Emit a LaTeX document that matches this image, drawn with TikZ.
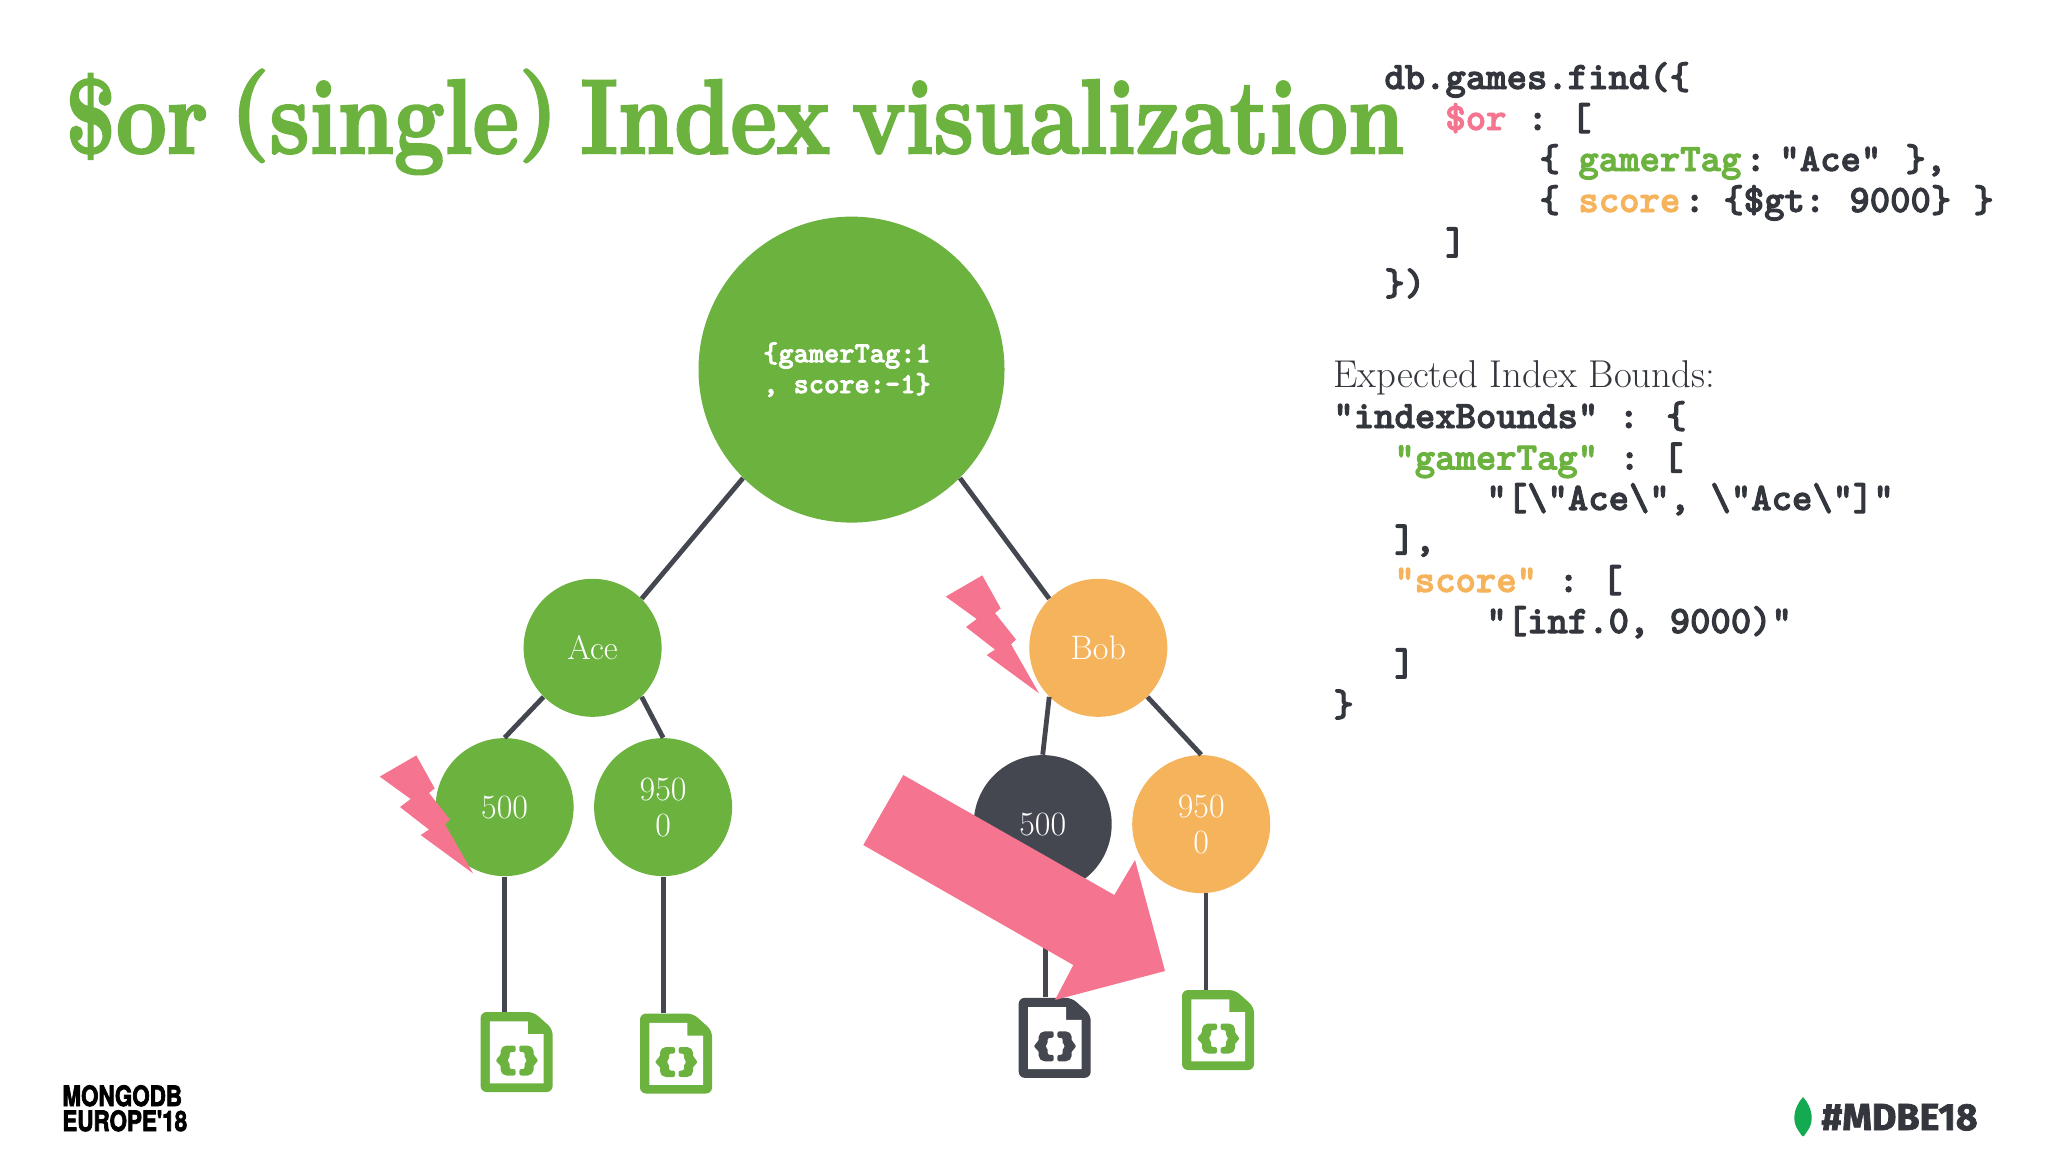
\documentclass[tikz,border=0pt]{standalone}
\usepackage{fontspec}
\usepackage{graphicx}
\newfontfamily\tagfont[BoldFeatures={FakeBold=2}]{Fira Sans}
\newfontfamily\logofont[BoldFeatures={FakeBold=3}]{TeX Gyre Heros}
\newfontfamily\titlefont[BoldFeatures={FakeBold=2.5}]{Latin Modern Roman}
\newfontfamily\codefont[BoldFeatures={FakeBold=2.5}]{Latin Modern Mono Light}
\definecolor{mgreen}{HTML}{6BB23F}
\definecolor{morange}{HTML}{F5B35C}
\definecolor{mdark}{HTML}{44474F}
\definecolor{mpink}{HTML}{F5748F}
\definecolor{mtext}{HTML}{33363D}
\definecolor{mleaf}{HTML}{13AA52}
\tikzset{
  treenode/.style={circle,inner sep=0pt,minimum size=69pt,text=white,align=center,font=\fontsize{17}{18}\selectfont},
  edge/.style={draw=mdark,line width=2.4pt},
  docnode/.style={inner sep=0pt,minimum width=36pt,minimum height=40pt},
  code/.style={anchor=base west,inner sep=0pt,text=mtext,font=\fontsize{19.4}{20}\codefont\bfseries},
  docicon/.pic={
    \fill[pic actions,even odd rule,rounded corners=3pt]
      (-36,-40) -- (17,-40) -- (36,-23) -- (36,40) -- (-36,40) -- cycle;
    \fill[white]
      (-26.7,-30.7) -- (11.3,-30.7) -- (11.3,-18) -- (27,-18) -- (27,31.4) -- (-26.7,31.4) -- cycle;
    \fill[pic actions,rounded corners=1pt]
      (-1,-6.5) -- (-12,-6.5) -- (-16,-3) -- (-16,4) -- (-20.3,6) -- (-20.3,11) -- (-16,12) -- (-16,20) -- (-12,23.5) -- (-1,23.5) -- (-1,17) -- (-7,17) -- (-7,10) -- (-10,8.5) -- (-7,6.5) -- (-7,0) -- (-1,0) -- cycle;
    \fill[pic actions,rounded corners=1pt]
      (2.7,-6.5) -- (13,-6.5) -- (17,-3) -- (17,4) -- (21,6) -- (21,11) -- (17,12) -- (17,20) -- (13,23.5) -- (2.7,23.5) -- (2.7,17) -- (8,17) -- (8,10) -- (11,8.5) -- (8,6.5) -- (8,0) -- (2.7,0) -- cycle;
  },
  bolt/.pic={
    \fill[mpink] (982.3,575.4) -- (945.7,596.6) -- (976.7,619) -- (966,627) -- (995,649.6) -- (986.7,655) -- (1039,693.3) -- (1011,644.2) -- (1016,639.6) -- (995,613) -- (1000.7,608.4) -- cycle;
  }
}
\newcommand{\titleparen}[1]{\raisebox{6pt}{\scalebox{1}[0.88]{#1}}}
\begin{document}
\begin{tikzpicture}[x=0.5pt,y=-0.5pt]
\useasboundingbox[fill=white] (0,0) rectangle (2048,1152);
% title
\node[anchor=base west,inner sep=0pt,text=mgreen,font=\fontsize{45}{45}\titlefont\bfseries] (title) at (65,153) {\scalebox{1}[1.17]{\spaceskip=11pt\relax \$or \titleparen{(}single\titleparen{)} Index visualization}};
% tree nodes
\node[treenode,fill=mgreen,minimum size=153pt,font=\fontsize{14.5}{15.4}\codefont\bfseries] (root) at (851.5,369.6) {\hspace*{-4.6pt}\{gamerTag:1\\\hspace*{-4.6pt}, score:-1\}};
\node[treenode,fill=mgreen] (ace) at (592.6,647.8) {Ace};
\node[treenode,fill=morange] (bob) at (1098.3,647.8) {Bob};
\node[treenode,fill=mgreen] (lfive) at (504.6,807.1) {500};
\node[treenode,fill=mgreen] (lnine) at (663.1,807.1) {950\\0};
\node[treenode,fill=mdark] (rfive) at (1042.7,824.1) {500};
\node[treenode,fill=morange] (rnine) at (1201.2,824.1) {950\\0};
% documents
\node[docnode] (docA) at (516.6,1052) {};
\node[docnode] (docB) at (676,1053.5) {};
\node[docnode] (docC) at (1054.7,1037.8) {};
\node[docnode] (docD) at (1218,1030) {};
\pic[fill=mgreen] at (docA) {docicon};
\pic[fill=mgreen] at (docB) {docicon};
\pic[fill=mdark] at (docC) {docicon};
\pic[fill=mgreen] at (docD) {docicon};
% connectors
\draw[edge] (root.225) -- (ace.45);
\draw[edge] (root.-45) -- (bob.135);
\draw[edge] (ace.225) -- (lfive.north);
\draw[edge] (ace.-45) -- (lnine.north);
\draw[edge] (bob.225) -- (rfive.north);
\draw[edge] (bob.-45) -- (rnine.north);
\draw[edge] (lfive.south) -- (docA.north -| lfive.south);
\draw[edge] (lnine.south) -- (docB.north -| lnine.south);
\draw[edge] (rfive.-88) -- (docC.north -| rfive.-88);
\draw[edge] (rnine.-86) -- (docD.north -| rnine.-86);
% alerts
\pic at (0,0) {bolt};
\pic at (-566,180) {bolt};
\fill[mpink] (903.3,775) -- (863.3,845) -- (1073.3,965) -- (1055,1000) -- (1165,971) -- (1135,860) -- (1114.3,895) -- cycle;
% query
\node[code] (q1) at (1384,89) {db.games.find(\{};
\node[code,text=mpink] (q2a) at (1445,130) {\$or};
\node[code] (q2b) at (1527,130) {: \hspace{-2pt}[};
\node[code] (q3a) at (1539,171) {\{};
\node[code,text=mgreen] (q3b) at (1578,171) {gamerTag};
\node[code] (q3c) at (1745,171) {:};
\node[code] (q3d) at (1779,171) {"Ace"};
\node[code] (q3e) at (1905,171) {\},};
\node[code] (q4a) at (1539,212) {\{};
\node[code,text=morange] (q4b) at (1578,212) {score};
\node[code] (q4c) at (1684,212) {:};
\node[code] (q4d) at (1723,212) {\{\$gt:};
\node[code] (q4e) at (1849,212) {9000\}};
\node[code] (q4f) at (1973,212) {\}};
\node[code] (q5) at (1445,254.3) {]};
\node[code] (q6) at (1384,295.3) {\})};
% bounds
\node[anchor=base west,inner sep=0pt,text=mtext,font=\fontsize{19.4}{20}\selectfont] (bt) at (1333,387.3) {Expected Index Bounds:};
\node[code] (b1) at (1333,428) {"indexBounds" : \{};
\node[code,text=mgreen] (b2a) at (1394,469.5) {"gamerTag"};
\node[code] (b2b) at (1619,469.5) {: \hspace{-2pt}[};
\node[code] (b3) at (1486,510) {"[\textbackslash"Ace\textbackslash", \textbackslash"Ace\textbackslash"]"};
\node[code] (b4) at (1394,551.5) {],};
\node[code,text=morange] (b5a) at (1394,592) {"score"};
\node[code] (b5b) at (1558,592) {: \hspace{-2pt}[};
\node[code] (b6) at (1486,633) {"[inf.0, 9000)"};
\node[code] (b7) at (1394,675.3) {]};
\node[code] (b8) at (1333,716.3) {\}};
% footer
\node[anchor=base west,inner sep=0pt,text=black,font=\logofont\bfseries\fontsize{14}{14}\selectfont] (lg1) at (62,1106) {\scalebox{0.8}[1]{MONGODB}};
\node[anchor=base west,inner sep=0pt,text=black,font=\logofont\bfseries\fontsize{14}{14}\selectfont] (lg2) at (62,1131) {\scalebox{0.8}[1]{EUROPE'18}};
\fill[mleaf] (1803,1097) .. controls (1793,1108) and (1792,1122) .. (1798,1130) -- (1802,1136) -- (1804,1136) -- (1808,1130) .. controls (1814,1122) and (1813,1108) .. (1803,1097) -- cycle;
\node[anchor=base west,inner sep=0pt,text=mtext,font=\tagfont\bfseries\fontsize{18.8}{18}\selectfont] (tag) at (1821,1130) {\#MDBE18};
\end{tikzpicture}
\end{document}
